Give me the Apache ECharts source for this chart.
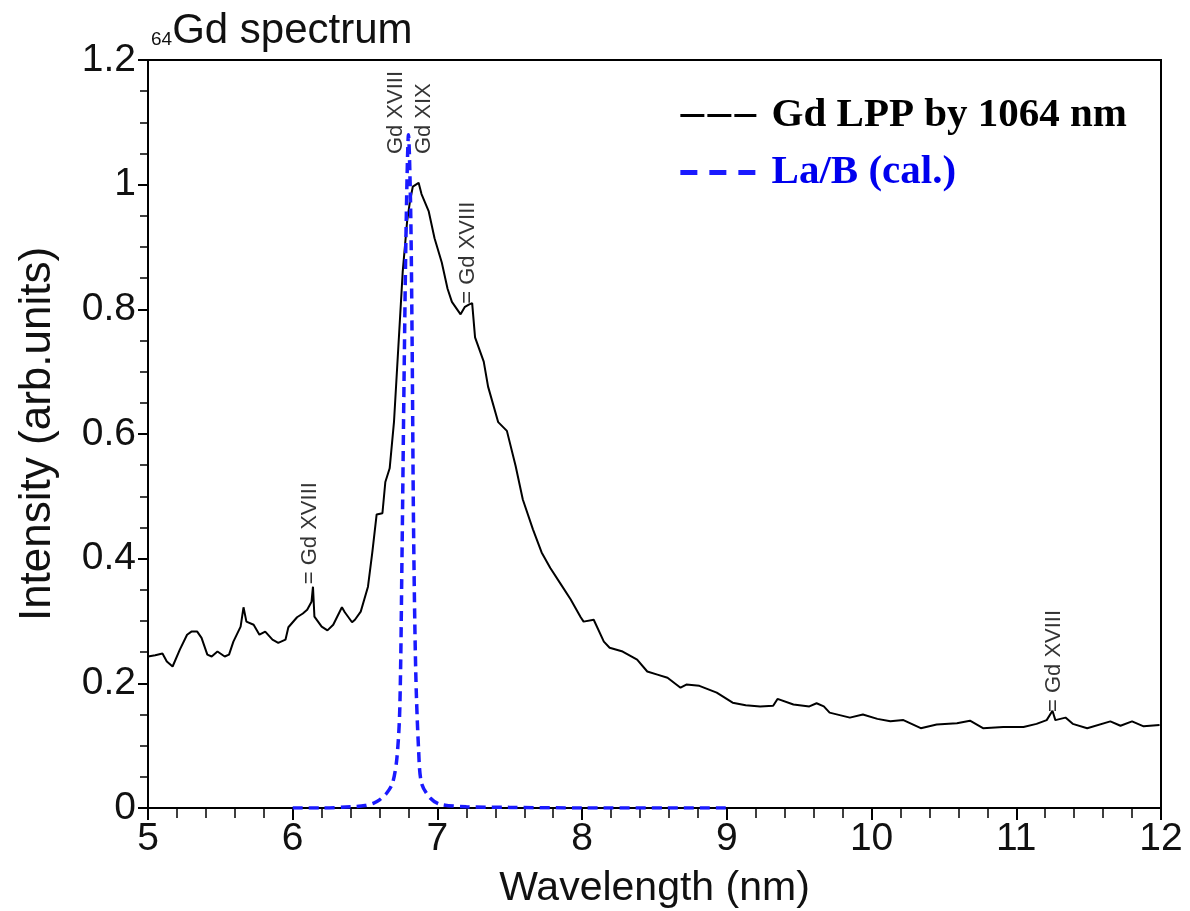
<!DOCTYPE html>
<html>
<head>
<meta charset="utf-8">
<title>Gd spectrum</title>
<script src="https://cdn.jsdelivr.net/npm/echarts@6/dist/echarts.min.js"></script>
<style>
  html, body { margin: 0; padding: 0; background: #fff; }
  #chart { width: 1190px; height: 911px; }
</style>
</head>
<body>
<div id="chart"></div>
<script>
// measured Gd spectrum (wavelength nm, intensity)
var gdWave = [5.00, 5.05, 5.10, 5.13, 5.17, 5.22, 5.27, 5.30, 5.34, 5.37, 5.41, 5.44, 5.48, 5.53, 5.56, 5.59, 5.64, 5.66, 5.68, 5.73,
  5.77, 5.81, 5.86, 5.90, 5.95, 5.97, 6.03, 6.07, 6.10, 6.13, 6.14, 6.15, 6.20, 6.24, 6.28, 6.34, 6.36, 6.41, 6.43, 6.47,
  6.52, 6.55, 6.58, 6.62, 6.64, 6.67, 6.70, 6.73, 6.76, 6.79, 6.81, 6.83, 6.87, 6.89, 6.94, 6.98, 7.03, 7.07, 7.10, 7.16,
  7.19, 7.22, 7.24, 7.26, 7.32, 7.35, 7.42, 7.48, 7.54, 7.59, 7.66, 7.72, 7.78, 7.85, 7.92, 7.99, 8.01, 8.08, 8.15, 8.19,
  8.28, 8.38, 8.45, 8.52, 8.59, 8.68, 8.72, 8.81, 8.93, 9.04, 9.13, 9.23, 9.32, 9.35, 9.46, 9.57, 9.62, 9.67, 9.71, 9.85,
  9.94, 10.04, 10.13, 10.22, 10.34, 10.45, 10.59, 10.68, 10.77, 10.91, 11.05, 11.14, 11.21, 11.25, 11.27, 11.34, 11.39, 11.49, 11.65, 11.72,
  11.80, 11.88, 11.99];
var gdIntensity = [0.243, 0.245, 0.248, 0.235, 0.227, 0.254, 0.278, 0.283, 0.283, 0.273, 0.246, 0.243, 0.251, 0.243, 0.246, 0.267, 0.291, 0.322, 0.299, 0.294,
  0.278, 0.283, 0.270, 0.265, 0.270, 0.290, 0.306, 0.312, 0.318, 0.331, 0.355, 0.307, 0.291, 0.285, 0.294, 0.322, 0.314, 0.298, 0.302, 0.315,
  0.355, 0.410, 0.471, 0.473, 0.523, 0.545, 0.620, 0.740, 0.860, 0.940, 0.973, 0.997, 1.003, 0.985, 0.957, 0.914, 0.875, 0.833, 0.812, 0.792,
  0.804, 0.808, 0.810, 0.755, 0.716, 0.676, 0.619, 0.605, 0.549, 0.495, 0.447, 0.410, 0.385, 0.360, 0.335, 0.306, 0.299, 0.302, 0.267, 0.257,
  0.251, 0.238, 0.219, 0.214, 0.209, 0.193, 0.198, 0.196, 0.185, 0.169, 0.165, 0.163, 0.164, 0.175, 0.166, 0.163, 0.168, 0.163, 0.153, 0.145,
  0.150, 0.143, 0.139, 0.141, 0.128, 0.134, 0.136, 0.140, 0.128, 0.130, 0.130, 0.135, 0.141, 0.156, 0.141, 0.145, 0.135, 0.128, 0.139, 0.132,
  0.139, 0.131, 0.133];

// calculated La/B reflectivity curve
var labWave = [6.00, 6.20, 6.40, 6.50, 6.56, 6.60, 6.65, 6.69, 6.72, 6.74, 6.755, 6.77, 6.785, 6.80, 6.815, 6.825, 6.835, 6.85, 6.87, 6.89,
  6.95, 7.02, 7.20, 7.50, 8.00, 9.00];
var labValue = [0, 0, 0.002, 0.004, 0.008, 0.013, 0.024, 0.040, 0.080, 0.160, 0.400, 0.700, 0.950, 1.080, 0.960, 0.750, 0.450, 0.220, 0.093, 0.040,
  0.016, 0.006, 0.002, 0.001, 0, 0];

// line identifications
var lineWave = [6.12, 6.71, 6.91, 7.21, 11.26];
var lineLabelBase = [0.359, 1.049, 1.049, 0.809, 0.154];
var lineNames = ['= Gd XVIII', 'Gd XVIII', 'Gd XIX', '= Gd XVIII', '= Gd XVIII'];

var seriesNames = ['Gd LPP by 1064 nm', 'La/B (cal.)'];

function pairs(xs, ys) {
  var out = [];
  for (var i = 0; i < xs.length; i++) out.push([xs[i], ys[i]]);
  return out;
}

var annot = [];
for (var i = 0; i < lineWave.length; i++) {
  annot.push({ value: [lineWave[i], lineLabelBase[i]], name: lineNames[i] });
}

var chart = echarts.init(document.getElementById('chart'));

var option = {
  backgroundColor: '#fff',
  animation: false,
  title: {
    text: '{sub|64}Gd spectrum',
    left: 146,
    top: 5,
    textStyle: {
      fontFamily: 'Liberation Sans',
      fontWeight: 'normal',
      fontSize: 42,
      color: '#111',
      rich: {
        sub: { fontSize: 19, fontFamily: 'Liberation Sans', color: '#111', padding: [18, 0, 0, 0] }
      }
    }
  },
  legend: {
    orient: 'vertical',
    right: 58,
    top: 90,
    itemWidth: 76,
    itemHeight: 14,
    itemGap: 16,
    itemStyle: { color: 'rgba(0,0,0,0)', borderWidth: 0, opacity: 0 },
    formatter: function (name) { return ' ' + name; },
    data: [
      { name: seriesNames[0], textStyle: { color: '#000' }, lineStyle: { color: '#000', width: 3, type: [24, 3] } },
      { name: seriesNames[1], textStyle: { color: '#0000ee' }, lineStyle: { color: '#1a1aff', width: 5, type: [17, 12] } }
    ],
    textStyle: {
      fontFamily: 'Liberation Serif',
      fontWeight: 'bold',
      fontSize: 41
    }
  },
  grid: {
    left: 148,
    right: 29,
    top: 60,
    bottom: 103,
    outerBoundsMode: 'none',
    show: true,
    borderColor: '#000',
    borderWidth: 2,
    backgroundColor: 'transparent'
  },
  xAxis: {
    type: 'value',
    min: 5,
    max: 12,
    interval: 1,
    name: 'Wavelength (nm)',
    nameLocation: 'middle',
    nameGap: 60,
    nameTextStyle: { fontFamily: 'Liberation Sans', fontSize: 41, color: '#111' },
    axisLine: { lineStyle: { color: '#000', width: 2 } },
    axisTick: { length: 12, lineStyle: { color: '#000', width: 2 } },
    minorTick: { show: true, splitNumber: 5, length: 10, lineStyle: { color: '#000', width: 1.5 } },
    splitLine: { show: false },
    axisLabel: { fontFamily: 'Liberation Sans', fontSize: 39, color: '#111', margin: 12 }
  },
  yAxis: {
    type: 'value',
    min: 0,
    max: 1.2,
    interval: 0.2,
    name: 'Intensity (arb.units)',
    nameLocation: 'middle',
    nameGap: 88,
    nameTextStyle: { fontFamily: 'Liberation Sans', fontSize: 44, color: '#111' },
    axisLine: { lineStyle: { color: '#000', width: 2 } },
    axisTick: { length: 10, lineStyle: { color: '#000', width: 2 } },
    minorTick: { show: true, splitNumber: 4, length: 8, lineStyle: { color: '#000', width: 1.5 } },
    splitLine: { show: false },
    axisLabel: { fontFamily: 'Liberation Sans', fontSize: 39, color: '#111', margin: 12 }
  },
  series: [
    {
      name: seriesNames[0],
      type: 'line',
      showSymbol: false,
      symbol: 'none',
      data: pairs(gdWave, gdIntensity),
      lineStyle: { color: '#000', width: 2 },
      itemStyle: { color: '#000' },
      z: 3
    },
    {
      name: seriesNames[1],
      type: 'line',
      showSymbol: false,
      symbol: 'none',
      smooth: 0.3,
      data: pairs(labWave, labValue),
      lineStyle: { color: '#1a1aff', width: 3.5, type: [10, 6] },
      itemStyle: { color: '#1a1aff' },
      z: 4
    },
    {
      // labels for the emission lines
      type: 'scatter',
      symbolSize: 0,
      silent: true,
      data: annot,
      label: {
        show: true,
        position: 'inside',
        rotate: 90,
        align: 'left',
        verticalAlign: 'middle',
        formatter: function (p) { return p.name; },
        fontFamily: 'Liberation Sans',
        fontSize: 22,
        color: '#000'
      },
      z: 5
    }
  ]
};

chart.setOption(option);
</script>
</body>
</html>
